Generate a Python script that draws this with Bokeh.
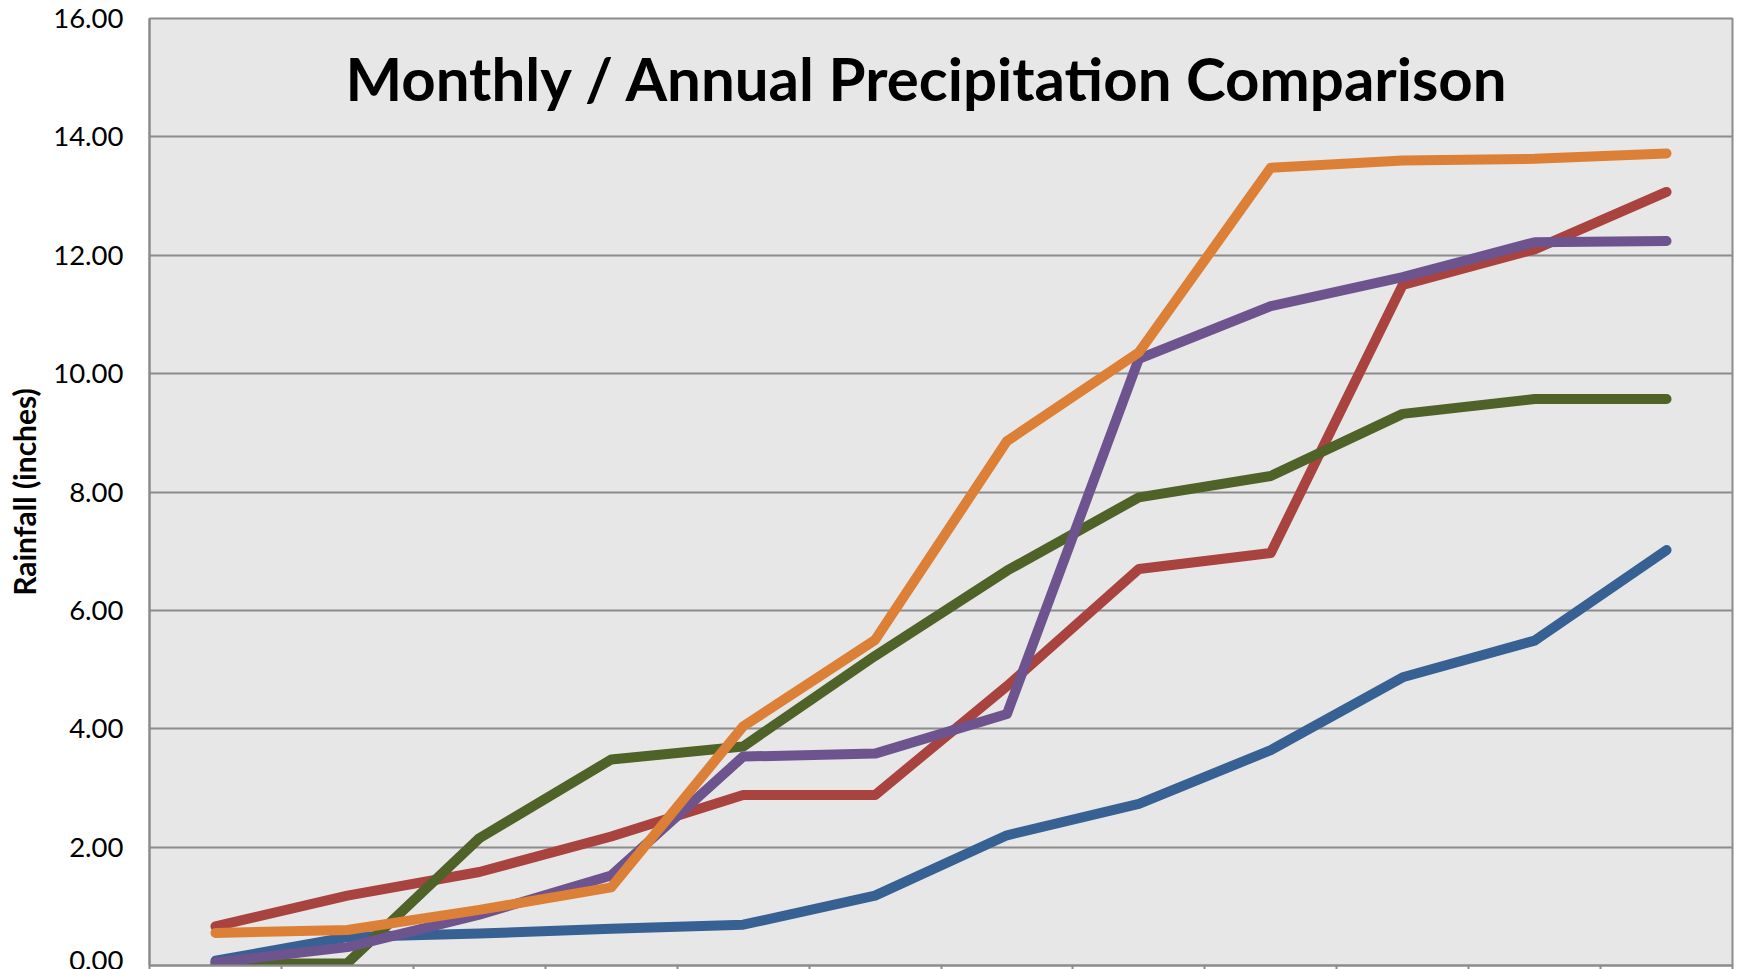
from bokeh.plotting import figure
from bokeh.models import Range1d, FixedTicker, Label, NumeralTickFormatter
from bokeh.embed import file_html
from bokeh.resources import INLINE

months = ["Jan", "Feb", "Mar", "Apr", "May", "Jun", "Jul", "Aug", "Sep", "Oct", "Nov", "Dec"]

series_blue = [0.08, 0.48, 0.54, 0.62, 0.69, 1.18, 2.20, 2.73, 3.64, 4.87, 5.49, 7.02]
series_red = [0.66, 1.18, 1.58, 2.18, 2.88, 2.88, 4.72, 6.70, 6.97, 11.50, 12.10, 13.07]
series_green = [0.03, 0.04, 2.15, 3.48, 3.70, 5.23, 6.67, 7.91, 8.27, 9.32, 9.57, 9.57]
series_purple = [0.05, 0.31, 0.86, 1.52, 3.53, 3.58, 4.25, 10.25, 11.14, 11.63, 12.22, 12.24]
series_orange = [0.55, 0.60, 0.94, 1.32, 4.04, 5.50, 8.86, 10.36, 13.48, 13.60, 13.63, 13.72]

y_ticks = [0, 2, 4, 6, 8, 10, 12, 14, 16]

title_text = "Monthly / Annual Precipitation Comparison"
y_label = "Rainfall (inches)"

FONT = "Lato"

p = figure(width=1745, height=969, output_backend="svg", toolbar_location=None,
           x_range=Range1d(0, len(months)), y_range=Range1d(0, 16),
           min_border_left=149, min_border_right=13, min_border_top=18, min_border_bottom=0)

p.background_fill_color = "#E7E7E7"
p.border_fill_color = "white"
p.outline_line_color = "#8C8C8C"
p.outline_line_width = 2

# y axis
p.yaxis.ticker = FixedTicker(ticks=y_ticks)
p.yaxis.formatter = NumeralTickFormatter(format="0.00")
p.yaxis.major_tick_out = 0
p.yaxis.major_tick_in = 0
p.yaxis.minor_tick_out = 0
p.yaxis.minor_tick_in = 0
p.yaxis.axis_line_color = "#8C8C8C"
p.yaxis.axis_line_width = 2
p.yaxis.major_label_text_font = FONT
p.yaxis.major_label_text_font_size = "27.5px"
p.yaxis.major_label_text_color = "black"
p.yaxis.major_label_standoff = 26
p.yaxis.axis_label = y_label
p.yaxis.axis_label_text_font = FONT
p.yaxis.axis_label_text_font_style = "bold"
p.yaxis.axis_label_text_font_size = "30px"
p.yaxis.axis_label_text_color = "black"
p.yaxis.axis_label_standoff = 8

# x axis: ticks between categories, labels cut off in reference
p.xaxis.ticker = FixedTicker(ticks=list(range(len(months) + 1)))
p.xaxis.major_label_overrides = {i: "" for i in range(len(months) + 1)}
p.xaxis.major_label_text_font_size = "0px"
p.xaxis.major_label_standoff = 0
p.xaxis.major_tick_out = 4
p.xaxis.major_tick_in = 0
p.xaxis.minor_tick_out = 0
p.xaxis.minor_tick_in = 0
p.xaxis.major_tick_line_color = "#8C8C8C"
p.xaxis.major_tick_line_width = 2
p.xaxis.axis_line_color = "#8C8C8C"
p.xaxis.axis_line_width = 2

p.xgrid.grid_line_color = None
p.ygrid.ticker = FixedTicker(ticks=y_ticks)
p.ygrid.grid_line_color = "#8C8C8C"
p.ygrid.grid_line_width = 2

xs = [i + 0.5 for i in range(len(months))]
series = [
    (series_blue, "#376193"),
    (series_red, "#A9433F"),
    (series_green, "#4F6228"),
    (series_purple, "#6E548E"),
    (series_orange, "#DD8037"),
]
for vals, col in series:
    p.line(xs, vals, line_color=col, line_width=10, line_cap="round", line_join="round")

p.add_layout(Label(x=5.9, y=14.99, text=title_text, text_align="center",
                   text_baseline="alphabetic", text_font=FONT, text_font_style="bold",
                   text_font_size="60px", text_color="black"))

open("out.html", "w").write(file_html(p, INLINE))
